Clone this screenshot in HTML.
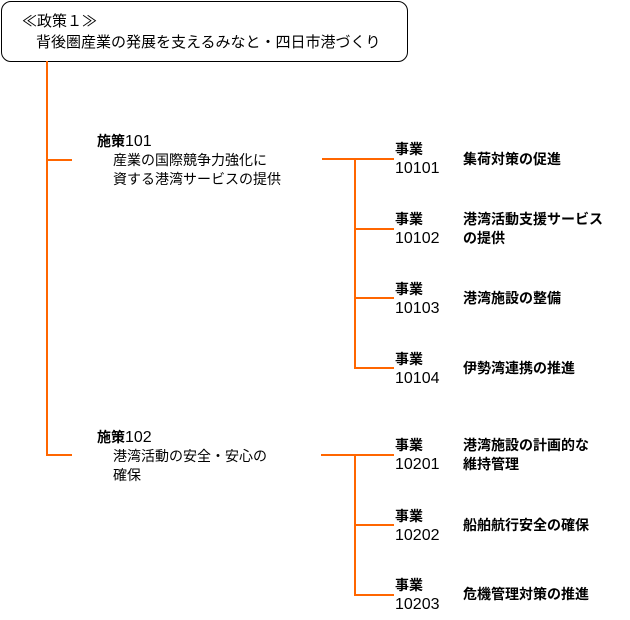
<!DOCTYPE html>
<html><head><meta charset="utf-8"><style>
body{margin:0;width:630px;height:620px;background:#fff;position:relative;overflow:hidden;font-family:"Liberation Sans","Noto Sans CJK JP",sans-serif;font-size:14px;color:#000}
.t{position:absolute;white-space:nowrap;line-height:19px}
.l{position:absolute;background:#f60}
.n{font-size:16px}
</style></head><body>
<div style="position:absolute;left:1px;top:1px;width:405px;height:59px;border:1px solid #000;border-radius:10px"></div>
<div class="t" style="left:22px;top:12px;font-size:15px">≪政策１≫</div>
<div class="t" style="left:36px;top:33px;font-size:15px">背後圏産業の発展を支えるみなと・四日市港づくり</div>

<div class="l" style="left:46px;top:61px;width:2px;height:395px"></div>
<div class="l" style="left:46px;top:159px;width:26px;height:2px"></div>
<div class="l" style="left:46px;top:454px;width:26px;height:2px"></div>

<div class="t" style="left:97px;top:132px"><b>施策</b><span class="n">101</span></div>
<div class="t" style="left:113px;top:151px">産業の国際競争力強化に<br>資する港湾サービスの提供</div>
<div class="t" style="left:97px;top:428px"><b>施策</b><span class="n">102</span></div>
<div class="t" style="left:113px;top:447px">港湾活動の安全・安心の<br>確保</div>

<div class="l" style="left:322px;top:158px;width:72px;height:2px"></div>
<div class="l" style="left:354px;top:158px;width:2px;height:211px"></div>
<div class="l" style="left:354px;top:228px;width:40px;height:2px"></div>
<div class="l" style="left:354px;top:297px;width:40px;height:2px"></div>
<div class="l" style="left:354px;top:367px;width:40px;height:2px"></div>

<div class="l" style="left:321px;top:454px;width:73px;height:2px"></div>
<div class="l" style="left:354px;top:454px;width:2px;height:142px"></div>
<div class="l" style="left:354px;top:524px;width:40px;height:2px"></div>
<div class="l" style="left:354px;top:594px;width:40px;height:2px"></div>

<div class="t" style="left:395px;top:140px"><b>事業</b><br><span class="n">10101</span></div>
<div class="t" style="left:463px;top:150px"><b>集荷対策の促進</b></div>
<div class="t" style="left:395px;top:210px"><b>事業</b><br><span class="n">10102</span></div>
<div class="t" style="left:463px;top:210px"><b>港湾活動支援サービス<br>の提供</b></div>
<div class="t" style="left:395px;top:280px"><b>事業</b><br><span class="n">10103</span></div>
<div class="t" style="left:463px;top:289px"><b>港湾施設の整備</b></div>
<div class="t" style="left:395px;top:350px"><b>事業</b><br><span class="n">10104</span></div>
<div class="t" style="left:463px;top:359px"><b>伊勢湾連携の推進</b></div>

<div class="t" style="left:395px;top:436px"><b>事業</b><br><span class="n">10201</span></div>
<div class="t" style="left:463px;top:436px"><b>港湾施設の計画的な<br>維持管理</b></div>
<div class="t" style="left:395px;top:507px"><b>事業</b><br><span class="n">10202</span></div>
<div class="t" style="left:463px;top:516px"><b>船舶航行安全の確保</b></div>
<div class="t" style="left:395px;top:576px"><b>事業</b><br><span class="n">10203</span></div>
<div class="t" style="left:463px;top:585px"><b>危機管理対策の推進</b></div>
</body></html>
